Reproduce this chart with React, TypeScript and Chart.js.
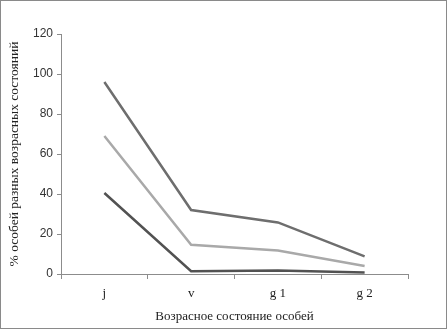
import React, { useEffect, useRef } from "react";
import { Chart, registerables } from "chart.js";

Chart.register(...registerables);

const categories = ["j", "v", "g 1", "g 2"];
const seriesTop = [96, 32, 25.8, 8.8];
const seriesMid = [69, 14.6, 11.8, 4];
const seriesBottom = [40.5, 1.4, 1.7, 0.7];
const yTitle = "% особей разных возрасных состояний";
const xTitle = "Возрасное состояние особей";

export default function App() {
  const ref = useRef<HTMLCanvasElement>(null);
  useEffect(() => {
    if (!ref.current) return;
    const chart = new Chart(ref.current, {
      type: "line",
      data: {
        labels: categories,
        datasets: [
          { data: seriesTop, borderColor: "#6e6e6e", borderWidth: 2.5, pointRadius: 0, tension: 0 },
          { data: seriesMid, borderColor: "#a9a9a9", borderWidth: 2.5, pointRadius: 0, tension: 0 },
          { data: seriesBottom, borderColor: "#525252", borderWidth: 2.5, pointRadius: 0, tension: 0 },
        ],
      },
      options: {
        responsive: false,
        animation: false,
        layout: { padding: { top: 33, right: 38, left: 5, bottom: 4 } },
        plugins: { legend: { display: false }, tooltip: { enabled: false } },
        scales: {
          x: {
            offset: true,
            grid: { offset: true, drawOnChartArea: false, color: "#8c8c8c", tickLength: 5 },
            border: { color: "#8c8c8c" },
            ticks: { color: "#222", font: { family: "Liberation Serif", size: 13 }, padding: 7 },
            title: { display: true, text: xTitle, color: "#222", font: { family: "Liberation Serif", size: 13 }, padding: { top: 2, bottom: 0 } },
            afterFit: (s: any) => { s.height = 50; },
          },
          y: {
            min: 0,
            max: 120,
            ticks: { stepSize: 20, color: "#333", font: { family: "Liberation Sans", size: 12 }, padding: 4 },
            grid: { drawOnChartArea: false, color: "#8c8c8c", tickLength: 4 },
            border: { color: "#8c8c8c" },
            title: { display: true, text: yTitle, color: "#222", font: { family: "Liberation Serif", size: 13.5 }, padding: { top: 0, bottom: 4 } },
            afterFit: (s: any) => { s.width = 55; },
          },
        },
      },
    });
    return () => chart.destroy();
  }, []);
  return (
    <div
      style={{
        position: "absolute",
        left: 0,
        top: 0,
        width: 447,
        height: 329,
        boxSizing: "border-box",
        border: "1px solid #8a8a8a",
        background: "#fff",
        overflow: "hidden",
      }}
    >
      <canvas ref={ref} width={445} height={327} style={{ display: "block" }} />
    </div>
  );
}
